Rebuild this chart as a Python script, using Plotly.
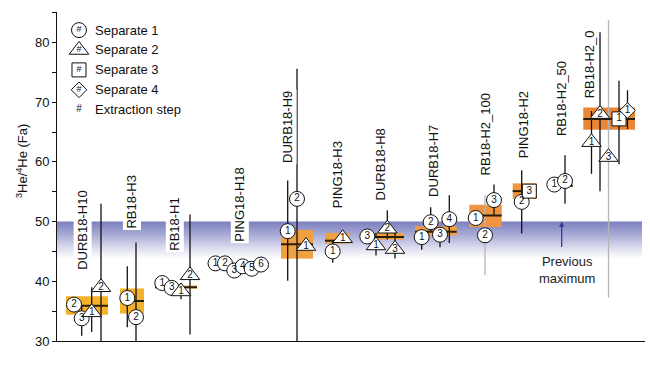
import plotly.graph_objects as go

FONT = "Liberation Sans, Arial, Helvetica, sans-serif"

# ---------------- data ----------------
groups = ["DURB18-H10", "RB18-H3", "RB18-H1", "PING18-H18", "DURB18-H9", "PING18-H3",
          "DURB18-H8", "DURB18-H7", "RB18-H2_100", "PING18-H2", "RB18-H2_50", "RB18-H2_0"]
label_x = [83, 131.5, 175, 240, 287.5, 337.5, 380, 434, 485, 523, 561, 589]
label_base = [41.5, 48.5, 44.7, 46.3, 59.4, 51.9, 53.2, 53.8, 57.4, 60.2, 63.9, 70.3]
box_x0 = [66, 120, 155, 208, 281, 325, 363, 415, 469.3, 512.7, 561.7, 583.3]
box_x1 = [108, 144, 197, 265, 313, 349, 404, 456.7, 501.7, 536.7, 572.7, 635]
box_lo = [34.4, 34.6, 38.8, 42.7, 43.8, 46.3, 47.0, 47.7, 49.1, 53.8, 55.8, 65.4]
box_hi = [37.5, 38.8, 39.3, 43.1, 48.6, 48.1, 48.1, 49.2, 52.8, 56.4, 56.2, 69.1]
box_mean = [35.9, 36.7, 39.0, 42.9, 46.2, 46.8, 47.4, 48.3, 51.0, 55.1, 56.0, 67.2]
box_color = ["#F4B22A", "#F4B22A", "#F2AE30", "#F2AA38", "#EFA040", "#F0A03E", "#EFA040",
             "#EF9E40", "#EF9440", "#EF963E", "#EF963E", "#EC8634"]

# points: x, value, err low, err high, separate, extraction step, grey error bar
pt_x = [74, 81.7, 91.7, 101,
        127.3, 136,
        162.3, 171.7, 181, 190,
        215.5, 225, 234.3, 242.7, 251.7, 261,
        287.7, 297, 306,
        332.7, 342.7,
        367.3, 376, 387.3, 395,
        421.7, 430.7, 440, 449.3,
        475.7, 485, 494,
        521.7, 529.3,
        554.3, 565,
        591.5, 600, 608.5, 619, 627.5]
pt_y = [36.1, 33.8, 34.8, 39.0,
        37.2, 34.0,
        39.7, 38.9, 38.3, 41.0,
        43.0, 43.0, 41.8, 42.5, 42.1, 42.8,
        48.4, 53.8, 45.9,
        45.0, 47.2,
        47.5, 46.0, 48.8, 45.4,
        47.4, 49.9, 47.8, 50.4,
        50.6, 47.7, 53.6,
        53.3, 55.1,
        56.2, 56.8,
        63.3, 68.0, 60.8, 67.2, 68.6]
pt_lo = [None, 30.9, 31.5, 28,
         32.3, 28,
         None, None, 37.0, 31.1,
         None, None, None, None, None, None,
         40.1, 28, None,
         43.1, None,
         None, 44.3, 47.0, 43.8,
         45.3, 48.3, 45.7, 46.4,
         None, 41.0, 51.0,
         48.0, None,
         None, 53.0,
         58.0, 55.1, 37.3, 59.6, 65.5]
pt_hi = [None, 36.0, 39.0, 53.0,
         42.5, 46.5,
         None, None, 39.5, 51.2,
         None, None, None, None, None, None,
         56.9, 75.6, None,
         46.8, None,
         None, 48.1, 51.9, 48.1,
         48.5, 52.4, 48.5, 54.4,
         None, 54.4, 56.2,
         58.6, None,
         None, 61.1,
         68.5, 81.7, 83.7, 73.6, 72.0]
pt_sep = [1, 1, 2, 2,
          1, 1,
          1, 1, 2, 2,
          1, 1, 1, 1, 1, 1,
          1, 1, 2,
          1, 2,
          1, 2, 2, 2,
          1, 1, 1, 1,
          1, 1, 1,
          1, 3,
          1, 1,
          2, 2, 2, 3, 4]
pt_step = [2, 3, 1, 2,
           1, 2,
           1, 3, 1, 2,
           1, 2, 3, 4, 5, 6,
           1, 2, 1,
           1, 1,
           3, 1, 2, 3,
           1, 2, 3, 4,
           1, 2, 3,
           2, 3,
           1, 2,
           1, 2, 3, 1, 1]
pt_grey = [False] * len(pt_x)
pt_grey[30] = True   # RB18-H2_100, separate 1 step 2
pt_grey[38] = True   # RB18-H2_0, separate 2 step 3

legend_labels = ["Separate 1", "Separate 2", "Separate 3", "Separate 4", "Extraction step"]
legend_seps = [1, 2, 3, 4, 0]

band_lo, band_hi = 43.8, 50.0
band_x = [57, 642]
prev_max_x = 561.7

sym = {1: "circle", 2: "triangle-up", 3: "square", 4: "diamond"}
size = {1: 15, 2: 17, 3: 14, 4: 12}

# ---------------- figure ----------------
fig = go.Figure()

# previous-maximum band with vertical gradient
fig.add_trace(go.Scatter(
    x=[band_x[0], band_x[1], band_x[1], band_x[0], band_x[0]],
    y=[band_hi, band_hi, band_lo, band_lo, band_hi],
    mode="lines", line=dict(width=0), fill="toself",
    fillgradient=dict(type="vertical", start=band_lo, stop=band_hi,
                      colorscale=[[0, "rgb(255,255,255)"], [0.3, "rgb(218,219,238)"],
                                  [0.65, "rgb(168,170,213)"], [1, "rgb(124,127,190)"]]),
    hoverinfo="skip", showlegend=False))

# orange boxes
for i in range(len(groups)):
    fig.add_trace(go.Scatter(
        x=[box_x0[i], box_x1[i], box_x1[i], box_x0[i], box_x0[i]],
        y=[box_hi[i], box_hi[i], box_lo[i], box_lo[i], box_hi[i]],
        mode="lines", line=dict(width=0), fill="toself", fillcolor=box_color[i],
        hoverinfo="skip", showlegend=False))

# error bars
def err_trace(grey):
    xs, ys = [], []
    for x, lo, hi, g in zip(pt_x, pt_lo, pt_hi, pt_grey):
        if lo is None or g != grey:
            continue
        xs += [x, x, None]
        ys += [lo, hi, None]
    return go.Scatter(x=xs, y=ys, mode="lines",
                      line=dict(color="#b5b5b5" if grey else "#111111", width=1.3),
                      hoverinfo="skip", showlegend=False)

fig.add_trace(err_trace(True))
fig.add_trace(err_trace(False))

# mean lines
mx, my = [], []
for i in range(len(groups)):
    mx += [box_x0[i], box_x1[i], None]
    my += [box_mean[i], box_mean[i], None]
fig.add_trace(go.Scatter(x=mx, y=my, mode="lines", line=dict(color="#2a1c0e", width=2),
                         hoverinfo="skip", showlegend=False))

# points
fig.add_trace(go.Scatter(
    x=pt_x, y=pt_y, mode="markers+text",
    marker=dict(symbol=[sym[s] for s in pt_sep], size=[size[s] for s in pt_sep],
                color="white", opacity=1, line=dict(color="#111111", width=1)),
    text=[str(s) for s in pt_step], textposition="middle center",
    textfont=dict(family=FONT, size=10, color="#111111"),
    hoverinfo="skip", showlegend=False, cliponaxis=False))

# legend (drawn on an overlay axis with 0..1 range)
leg_top, leg_step, leg_x = 0.945, 0.0605, 0.0374
leg_y = [leg_top - i * leg_step for i in range(len(legend_labels))]
mk_idx = [i for i, s in enumerate(legend_seps) if s > 0]
fig.add_trace(go.Scatter(
    x=[leg_x] * len(mk_idx), y=[leg_y[i] for i in mk_idx], xaxis="x2", yaxis="y2",
    mode="markers+text",
    marker=dict(symbol=[sym[legend_seps[i]] for i in mk_idx],
                size=[size[legend_seps[i]] for i in mk_idx],
                color="white", opacity=1, line=dict(color="#111111", width=1)),
    text=["#"] * len(mk_idx), textposition="middle center",
    textfont=dict(family=FONT, size=9, color="#111111"),
    hoverinfo="skip", showlegend=False, cliponaxis=False))
fig.add_trace(go.Scatter(
    x=[leg_x], y=[leg_y[4]], xaxis="x2", yaxis="y2", mode="text", text=["#"],
    textfont=dict(family=FONT, size=10, color="#111111"),
    hoverinfo="skip", showlegend=False, cliponaxis=False))

annotations = []
for lab, y in zip(legend_labels, leg_y):
    annotations.append(dict(x=0.0612, y=y, xref="paper", yref="paper", text=lab,
                            showarrow=False, xanchor="left", yanchor="middle",
                            font=dict(family=FONT, size=13, color="#111111")))

# sample labels
for g, x, b in zip(groups, label_x, label_base):
    annotations.append(dict(x=x, y=b, xref="x", yref="y", text=g, textangle=-90,
                            showarrow=False, xanchor="center", yanchor="bottom",
                            bgcolor="white", borderpad=1,
                            font=dict(family=FONT, size=13, color="#111111")))

# previous maximum arrow and text
annotations.append(dict(x=prev_max_x, y=band_hi, ax=prev_max_x, ay=45.5,
                        xref="x", yref="y", axref="x", ayref="y", text="",
                        showarrow=True, arrowhead=2, arrowsize=0.8, arrowwidth=1.3,
                        arrowcolor="#353a96"))
annotations.append(dict(x=566.5, y=41.9, xref="x", yref="y",
                        text="Previous<br>maximum", showarrow=False,
                        xanchor="center", yanchor="middle",
                        font=dict(family=FONT, size=13, color="#222222")))

# y-axis title
annotations.append(dict(x=-0.0595, y=0.547, xref="paper", yref="paper",
                        text="<sup>3</sup>He/<sup>4</sup>He (Fa)", textangle=-90,
                        showarrow=False, xanchor="center", yanchor="middle",
                        font=dict(family=FONT, size=13, color="#111111")))

fig.update_layout(
    width=650, height=365,
    margin=dict(l=57, r=5, t=12, b=24, autoexpand=False),
    paper_bgcolor="white", plot_bgcolor="white",
    font=dict(family=FONT, size=13, color="#111111"),
    xaxis=dict(range=[57, 645], showline=True, linecolor="#111111", linewidth=1,
               showticklabels=False, ticks="", showgrid=False, zeroline=False),
    yaxis=dict(range=[30, 85.1], showline=True, linecolor="#111111", linewidth=1,
               ticks="outside", ticklen=4, tickwidth=1, tickcolor="#111111",
               tickvals=[30, 40, 50, 60, 70, 80],
               minor=dict(ticks="outside", ticklen=4, dtick=5, tick0=35,
                          tickcolor="#111111", showgrid=False),
               tickfont=dict(family=FONT, size=13, color="#111111"),
               showgrid=False, zeroline=False),
    xaxis2=dict(range=[0, 1], overlaying="x", visible=False),
    yaxis2=dict(range=[0, 1], overlaying="y", visible=False),
    annotations=annotations,
    showlegend=False,
)

fig.write_html("out.html", config={"displayModeBar": False},
               post_script="document.body.style.margin='0';")
